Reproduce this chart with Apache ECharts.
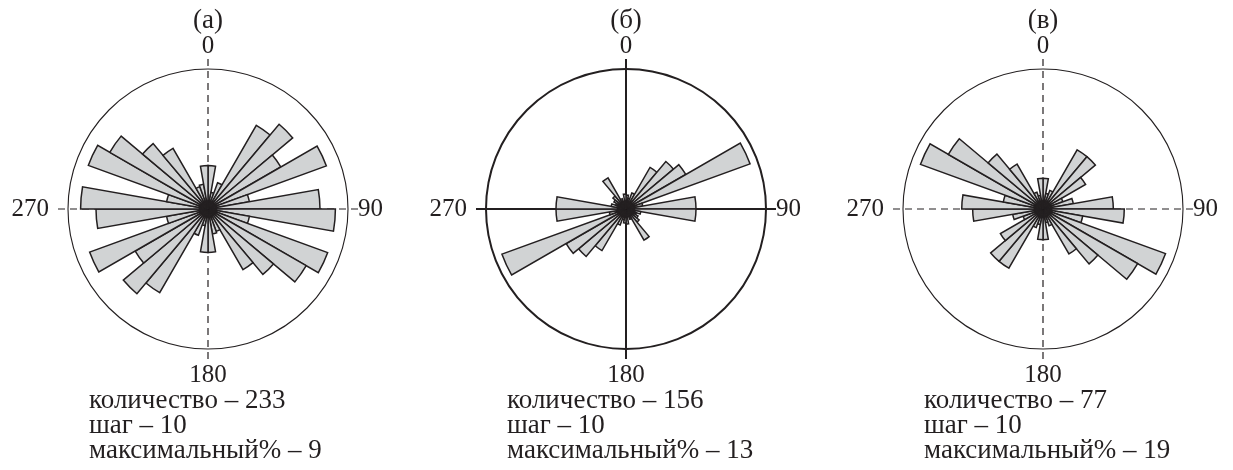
<!DOCTYPE html>
<html>
<head>
<meta charset="utf-8">
<script src="https://cdn.jsdelivr.net/npm/echarts@6/dist/echarts.min.js"></script>
<style>
html,body{margin:0;padding:0;background:#ffffff;}
#chart{width:1233px;height:470px;}
</style>
</head>
<body>
<div id="chart"></div>
<script>
// 10-degree direction bins (clockwise from north)
const directions = ['0','10','20','30','40','50','60','70','80','90','100','110',
  '120','130','140','150','160','170','180','190','200','210','220','230',
  '240','250','260','270','280','290','300','310','320','330','340','350'];

// percentage of measurements per bin, panel (а)
const valuesA = [3.1, 1.2, 2.0, 6.9, 7.9, 6.0, 9.0, 3.0, 8.0, 9.1, 3.0, 9.1, 8.1, 6.1, 5.0, 1.7, 1.8, 3.1,
                 3.1, 1.2, 2.0, 6.9, 7.9, 6.0, 9.0, 3.0, 8.0, 9.1, 3.0, 9.1, 8.1, 6.1, 5.0, 1.7, 1.8, 3.1];
// panel (б)
const valuesB = [1.4, 1.1, 1.7, 4.8, 6.2, 6.9, 13.2, 1.7, 7.0, 7.0, 1.5, 1.1, 1.4, 1.7, 3.6, 1.1, 0.8, 1.5,
                 1.4, 1.1, 1.7, 4.8, 6.2, 6.9, 13.2, 1.7, 7.0, 7.0, 1.5, 1.1, 1.4, 1.7, 3.6, 1.1, 0.8, 1.5];
// panel (в)
const valuesC = [4.5, 2.3, 2.9, 10.0, 10.0, 7.2, 3.1, 4.5, 10.3, 11.9, 5.9, 19.1, 16.0, 10.5, 7.6, 2.6, 2.0, 4.5,
                 4.5, 2.3, 2.9, 10.0, 10.0, 7.2, 3.1, 4.5, 10.3, 11.9, 5.9, 19.1, 16.0, 10.5, 7.6, 2.6, 2.0, 4.5];

// outer circle value (percent) for each panel
const circleMax = [10, 14, 20.5];

const panelTitles = ['(а)', '(б)', '(в)'];
const counts = [233, 156, 77];
const steps = [10, 10, 10];
const maxPercents = [9, 13, 19];
const cardinalTicks = [0, 90, 180, 270];

const FONT = '"Liberation Serif", "Times New Roman", serif';
const INK = '#231f20';
const FILL = '#d1d3d4';

const centersX = [208, 626, 1043];
const centerY = 209;
const R = 140;
const crossStyles = [
  {type: [7, 5], width: 1.2, circle: 1.1},
  {type: 'solid', width: 2, circle: 2},
  {type: [7, 5], width: 1.2, circle: 1.1}
];
const allValues = [valuesA, valuesB, valuesC];

const polar = [], angleAxis = [], radiusAxis = [], series = [], graphic = [];

for (let i = 0; i < 3; i++) {
  const cx = centersX[i];
  // data polar
  polar.push({center: [cx, centerY], radius: [0, R]});
  angleAxis.push({
    polarIndex: 2 * i, type: 'category', data: directions, boundaryGap: true,
    startAngle: 90, clockwise: true,
    axisLine: {show: true, lineStyle: {color: INK, width: crossStyles[i].circle}},
    axisTick: {show: false}, axisLabel: {show: false}, splitLine: {show: false}
  });
  radiusAxis.push({polarIndex: 2 * i, type: 'value', min: 0, max: circleMax[i], show: false});
  // overlay polar for the cross lines and cardinal labels
  polar.push({center: [cx, centerY], radius: [0, R + 10]});
  angleAxis.push({
    polarIndex: 2 * i + 1, type: 'value', min: 0, max: 360, interval: 90,
    startAngle: 90, clockwise: true, z: 0,
    axisLine: {show: false}, axisTick: {show: false},
    splitLine: {show: true, lineStyle: {color: INK, width: crossStyles[i].width, type: crossStyles[i].type}},
    axisLabel: {
      show: true, margin: 0, color: INK, fontFamily: FONT, fontSize: 25,
      formatter: function (v) {
        if (cardinalTicks.indexOf(v) < 0) return '';
        if (v === 270) return '{l|' + v + '}';
        if (v === 180) return '{b|' + v + '}';
        return '{n|' + v + '}';
      },
      rich: {
        l: {fontFamily: FONT, fontSize: 25, color: INK, padding: [0, 9, 0, 0]},
        b: {fontFamily: FONT, fontSize: 25, color: INK, padding: [4, 0, 0, 0]},
        n: {fontFamily: FONT, fontSize: 25, color: INK}
      }
    }
  });
  radiusAxis.push({polarIndex: 2 * i + 1, type: 'value', min: 0, max: 1, show: false});

  series.push({
    type: 'bar', coordinateSystem: 'polar', polarIndex: 2 * i,
    data: allValues[i], barCategoryGap: '0%', barGap: '0%', silent: true,
    itemStyle: {color: FILL, borderColor: INK, borderWidth: 1.5}
  });

  graphic.push({
    type: 'text', x: cx, y: 21,
    style: {text: panelTitles[i], font: '27px ' + FONT, fill: INK, align: 'center', verticalAlign: 'middle'}
  });
  graphic.push({
    type: 'text', x: cx - 119, y: 388.5,
    style: {
      text: 'количество – ' + counts[i] + '\nшаг – ' + steps[i] + '\nмаксимальный% – ' + maxPercents[i],
      font: '27px ' + FONT, fill: INK, lineHeight: 25, align: 'left', verticalAlign: 'top'
    }
  });
}

const chart = echarts.init(document.getElementById('chart'), null, {renderer: 'canvas'});
chart.setOption({
  backgroundColor: '#ffffff',
  animation: false,
  polar: polar,
  angleAxis: angleAxis,
  radiusAxis: radiusAxis,
  series: series,
  graphic: graphic
});
</script>
</body>
</html>
